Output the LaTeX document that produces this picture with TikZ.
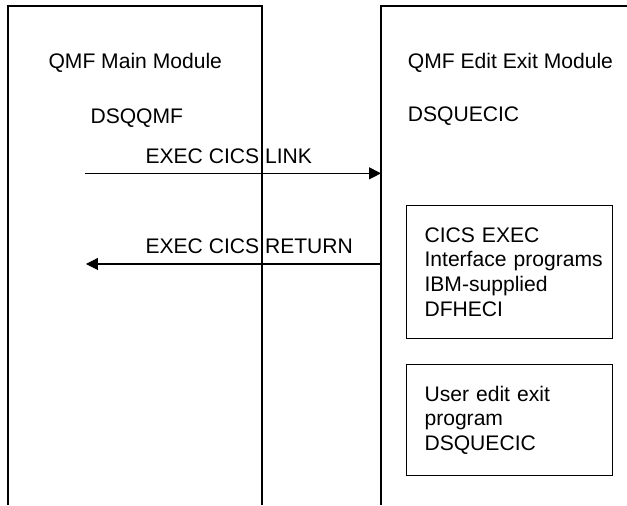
\documentclass[tikz,border=0pt]{standalone}
\usepackage{fontspec}
\setmainfont{Liberation Sans}
\usepackage{tikz}
\usetikzlibrary{arrows.meta,positioning}

\begin{document}
\begin{tikzpicture}[font=\fontsize{10}{11.7}\selectfont, line width=0.5pt,
  lbl/.style={anchor=base west, inner sep=0pt},
  prog/.style={draw, align=left, anchor=north west, inner xsep=0.3cm,
    text width=2.83cm, minimum width=3.43cm},
  arr/.style={-{Triangle[length=0.2cm,width=0.2cm]}}]
\useasboundingbox (0,0) rectangle (10.45,8.417);
% module outlines, open at the bottom
\draw (0.133,0) |- (4.367,8.317) -- (4.367,0);
\draw (6.35,0) |- (10.45,8.317);
\foreach \n/\x/\y/\t in {mainmod/0.8/7.283/{QMF Main Module},
  mainname/1.5/6.361/DSQQMF, exitmod/6.789/7.267/{QMF Edit Exit Module},
  exitname/6.789/6.389/DSQUECIC, link/2.417/5.7/{EXEC CICS LINK},
  ret/2.417/4.2/{EXEC CICS RETURN}}{
  \node[lbl] (\n) at (\x,\y) {\t};
}
\node[prog, minimum height=2.217cm] (eib) at (6.767,5.0)
  {CICS EXEC\\\mbox{Interface programs}\\IBM-supplied\\DFHECI};
\node[prog, minimum height=1.85cm, below=0.417cm of eib.south west, anchor=north west]
  (userpgm) {User edit exit\\program\\DSQUECIC};
\coordinate (linkfrom) at (1.417,5.528);
\coordinate (linkto) at (6.35,5.528);
\coordinate (retfrom) at (6.35,4.017);
\coordinate (retto) at (1.433,4.017);
\draw[arr] (linkfrom) -- (linkto);
\draw[arr] (retfrom) -- (retto);
\end{tikzpicture}
\end{document}
